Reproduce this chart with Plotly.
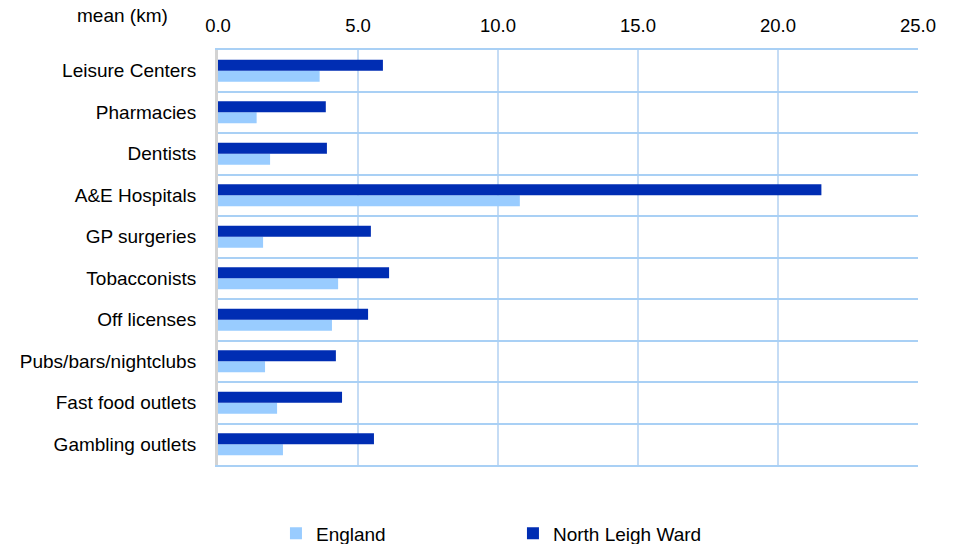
import plotly.graph_objects as go

categories = ["Leisure Centers", "Pharmacies", "Dentists", "A&E Hospitals", "GP surgeries",
              "Tobacconists", "Off licenses", "Pubs/bars/nightclubs", "Fast food outlets",
              "Gambling outlets"]
england = [3.63, 1.38, 1.86, 10.78, 1.61, 4.29, 4.07, 1.68, 2.11, 2.32]
north_leigh = [5.89, 3.85, 3.89, 21.55, 5.46, 6.11, 5.36, 4.21, 4.43, 5.57]
x_ticks = [0, 5, 10, 15, 20, 25]
x_tick_labels = ["0.0", "5.0", "10.0", "15.0", "20.0", "25.0"]

cats_rev = categories[::-1]
eng_rev = england[::-1]
nlw_rev = north_leigh[::-1]

FONT = "Liberation Sans, Arial, sans-serif"

fig = go.Figure()
fig.add_trace(go.Bar(y=cats_rev, x=eng_rev, orientation="h", name="England",
                     marker=dict(color="#99CCFF", line=dict(width=0))))
fig.add_trace(go.Bar(y=cats_rev, x=nlw_rev, orientation="h", name="North Leigh Ward",
                     marker=dict(color="#002DB3", line=dict(width=0))))

fig.update_layout(
    width=957, height=544,
    margin=dict(l=210, r=47, t=42, b=87, autoexpand=False),
    paper_bgcolor="white", plot_bgcolor="white",
    barmode="group", bargap=0.47, bargroupgap=0,
    font=dict(family=FONT, size=19, color="#000000"),
    showlegend=True,
    legend=dict(orientation="h", xref="container", yref="container",
                x=0.280, xanchor="left", y=0.0689, yanchor="top",
                entrywidth=192, font=dict(size=19), traceorder="normal"),
    xaxis=dict(side="top", range=[0, 25], tickvals=x_ticks, ticktext=x_tick_labels,
               showgrid=True, gridcolor="#C5DCF5", gridwidth=2,
               zeroline=False,
               showline=True, mirror=True, linecolor="#A9D0F5", linewidth=2,
               ticks="", ticklabelstandoff=9, automargin=False,
               tickfont=dict(size=18.5), fixedrange=True),
    yaxis=dict(type="category", categoryorder="array", categoryarray=cats_rev,
               tickson="boundaries", showgrid=True, gridcolor="#A9D0F5", gridwidth=2,
               showline=True, linecolor="#D3D3D3", linewidth=3,
               ticks="", ticklabelstandoff=15, automargin=False,
               tickfont=dict(size=19), fixedrange=True),
    yaxis2=dict(overlaying="y", side="right", showline=True, linecolor="#C5DCF5",
                linewidth=2, showgrid=False, showticklabels=False, zeroline=False,
                automargin=False, fixedrange=True),
    annotations=[dict(text="mean (km)", xref="paper", yref="paper",
                      x=-0.136, y=1.082, xanchor="center", yanchor="middle",
                      showarrow=False, font=dict(size=19))],
)

fig.write_html("out.html")
